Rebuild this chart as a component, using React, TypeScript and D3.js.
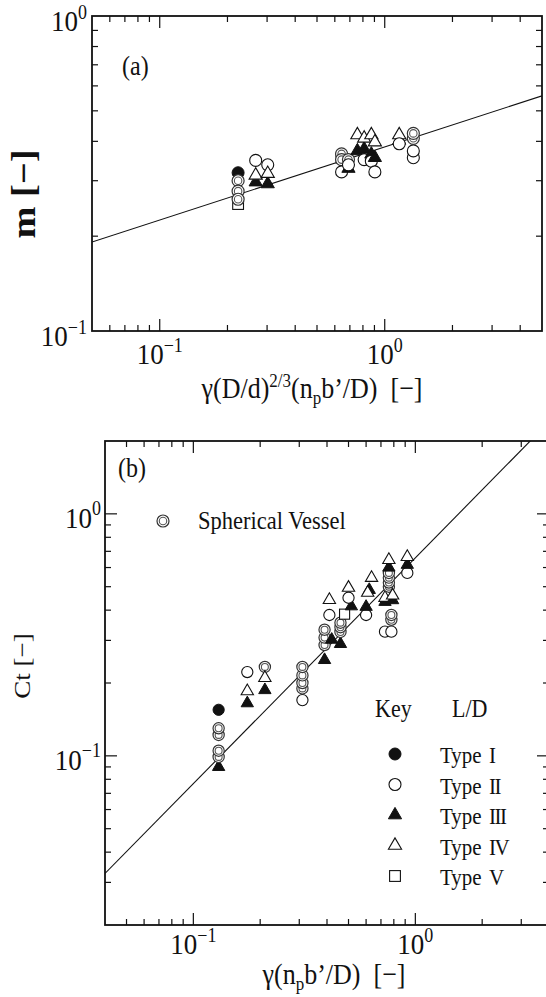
import React from "react";
import * as d3 from "d3";

const FONT = "'Liberation Serif','Times New Roman',Times,serif";
const SY = 1.13;
const INK = "#111";
const NB = "\u00a0";
const MINUS = "\u2212";

// ---------- Panel (a): m vs γ(D/d)^{2/3}(n_p b'/D) ----------
const aX = [0.223, 0.223, 0.223, 0.223, 0.223, 0.267, 0.267, 0.267, 0.302, 0.302, 0.302,
  0.643, 0.643, 0.643, 0.643, 0.69, 0.69, 0.69, 0.756, 0.756, 0.81, 0.81, 0.81,
  0.872, 0.872, 0.872, 0.904, 0.904, 0.904, 1.16, 1.16, 1.16, 1.34, 1.34, 1.34, 1.34];
const aY = [0.253, 0.318, 0.300, 0.278, 0.262, 0.348, 0.297, 0.312, 0.337, 0.293, 0.316,
  0.355, 0.365, 0.350, 0.320, 0.328, 0.350, 0.337, 0.373, 0.419, 0.378, 0.409, 0.350,
  0.364, 0.419, 0.346, 0.355, 0.398, 0.320, 0.403, 0.419, 0.393, 0.355, 0.373, 0.409, 0.424];
const aT = ["V", "I", "S", "S", "S", "II", "III", "IV", "II", "III", "IV",
  "V", "S", "S", "II", "III", "S", "II", "III", "IV", "III", "IV", "II",
  "III", "IV", "II", "III", "IV", "II", "III", "IV", "II", "II", "II", "S", "S"];
const fitA = { a: 0.384, b: 0.232 };

// ---------- Panel (b): Ct vs γ(n_p b'/D) ----------
const bX = [0.13, 0.13, 0.13, 0.13, 0.13, 0.13, 0.175, 0.175, 0.175, 0.21, 0.21, 0.21,
  0.31, 0.31, 0.31, 0.31, 0.31, 0.39, 0.39, 0.39, 0.39, 0.41, 0.41, 0.42,
  0.46, 0.46, 0.46, 0.46, 0.48, 0.515, 0.50, 0.50, 0.60, 0.60, 0.62, 0.61, 0.635,
  0.73, 0.73, 0.73, 0.76, 0.76, 0.76, 0.76, 0.76, 0.76, 0.78, 0.78, 0.78, 0.79, 0.79,
  0.92, 0.92, 0.92];
const bY = [0.155, 0.090, 0.099, 0.105, 0.122, 0.130, 0.222, 0.165, 0.185, 0.233, 0.187, 0.210,
  0.170, 0.190, 0.200, 0.215, 0.233, 0.249, 0.287, 0.308, 0.332, 0.382, 0.441, 0.302,
  0.290, 0.325, 0.340, 0.355, 0.385, 0.415, 0.450, 0.495, 0.382, 0.413, 0.485, 0.472, 0.544,
  0.326, 0.433, 0.450, 0.500, 0.520, 0.545, 0.570, 0.600, 0.645, 0.326, 0.365, 0.382, 0.440, 0.460,
  0.570, 0.616, 0.664];
const bT = ["I", "III", "S", "S", "S", "S", "II", "III", "IV", "S", "III", "IV",
  "II", "S", "S", "S", "S", "III", "S", "S", "S", "II", "IV", "III",
  "III", "S", "S", "S", "V", "III", "II", "IV", "II", "III", "III", "IV", "IV",
  "II", "III", "IV", "S", "S", "S", "S", "III", "IV", "II", "S", "S", "III", "IV",
  "II", "III", "IV"];
const fitB = { a: 0.658, b: 0.933 };

const legendTypes = ["I", "II", "III", "IV", "V"];
const legendNumerals = ["I", "II", "III", "IV", "V"];

function Marker({ type, cx, cy, r }: { type: string; cx: number; cy: number; r: number }) {
  if (type === "I") return <circle cx={cx} cy={cy} r={r} fill={INK} stroke={INK} strokeWidth={1} />;
  if (type === "II") return <circle cx={cx} cy={cy} r={r} fill="#fff" stroke={INK} strokeWidth={1.1} />;
  if (type === "S")
    return (
      <g>
        <circle cx={cx} cy={cy} r={r} fill="#fff" stroke="#333" strokeWidth={1.2} />
        <circle cx={cx} cy={cy} r={r * 0.62} fill="none" stroke="#555" strokeWidth={1.1} />
      </g>
    );
  if (type === "V")
    return <rect x={cx - r * 0.9} y={cy - r * 0.9} width={r * 1.8} height={r * 1.8} fill="#fff" stroke={INK} strokeWidth={1.1} />;
  const s = r * 2.2;
  const pts = `${cx},${cy - s * 0.577} ${cx - s / 2},${cy + s * 0.289} ${cx + s / 2},${cy + s * 0.289}`;
  if (type === "III") return <polygon points={pts} fill={INK} stroke={INK} strokeWidth={1} />;
  return <polygon points={pts} fill="#fff" stroke={INK} strokeWidth={1.1} />;
}

function isMajor(t: number) {
  const l = Math.log10(t);
  return Math.abs(l - Math.round(l)) < 1e-9;
}

function Frame({ x, y, major, minor, id }: any) {
  const [x0, x1] = x.range();
  const [y0, y1] = y.range();
  const [dx0, dx1] = x.domain();
  const [dy0, dy1] = y.domain();
  const xt = x.ticks().filter((t: number) => t > dx0 * 1.0001 && t < dx1 * 0.9999);
  const yt = y.ticks().filter((t: number) => t > dy0 * 1.0001 && t < dy1 * 0.9999);
  const els: any[] = [];
  xt.forEach((t: number, i: number) => {
    const L = isMajor(t) ? major : minor;
    els.push(<line key={`xb${id}${i}`} x1={x(t)} x2={x(t)} y1={y0} y2={y0 - L} />);
    els.push(<line key={`xt${id}${i}`} x1={x(t)} x2={x(t)} y1={y1} y2={y1 + L} />);
  });
  yt.forEach((t: number, i: number) => {
    const L = isMajor(t) ? major : minor;
    els.push(<line key={`yl${id}${i}`} x1={x0} x2={x0 + L} y1={y(t)} y2={y(t)} />);
    els.push(<line key={`yr${id}${i}`} x1={x1} x2={x1 - L} y1={y(t)} y2={y(t)} />);
  });
  return (
    <g stroke={INK} strokeWidth={1.2} fill="none">
      <rect x={x0} y={y1} width={x1 - x0} height={y0 - y1} strokeWidth={1.8} />
      {els}
    </g>
  );
}

function expStr(t: number) {
  const e = Math.round(Math.log10(t));
  return e < 0 ? `${MINUS}${-e}` : `${e}`;
}

function Pow({ x, y, t, anchor }: any) {
  return (
    <g transform={`translate(${x},${y}) scale(1,${SY})`}>
      <text textAnchor={anchor} fontSize={27} fontFamily={FONT} fill={INK}>
        <tspan>10</tspan>
        <tspan dy={-11} fontSize={18}>{expStr(t)}</tspan>
      </text>
    </g>
  );
}

function Txt({ x, y, size, children, anchor = "start", weight = "normal" }: any) {
  return (
    <g transform={`translate(${x},${y}) scale(1,${SY})`}>
      <text textAnchor={anchor} fontSize={size} fontFamily={FONT} fontWeight={weight} fill={INK}>
        {children}
      </text>
    </g>
  );
}

export default function App() {
  const xA = d3.scaleLog().domain([0.05, 5]).range([92, 542]);
  const yA = d3.scaleLog().domain([0.1, 1]).range([331, 16]);
  const xB = d3.scaleLog().domain([0.04, 4]).range([105, 549]);
  const yB = d3.scaleLog().domain([0.02, 2]).range([925, 441]);

  const lineA = d3.line<number>().x((v) => xA(v)).y((v) => yA(fitA.a * Math.pow(v, fitA.b)));
  const lineB = d3.line<number>().x((v) => xB(v)).y((v) => yB(fitB.a * Math.pow(v, fitB.b)));

  const majA = xA.ticks().filter(isMajor);
  const majAy = yA.ticks().filter(isMajor);
  const majB = xB.ticks().filter(isMajor);
  const majBy = yB.ticks().filter(isMajor);

  return (
    <svg width={546} height={997} style={{ position: "absolute", left: 0, top: 0, background: "#fff" }}>
      <defs>
        <clipPath id="clipA"><rect x={92} y={16} width={450} height={315} /></clipPath>
        <clipPath id="clipB"><rect x={105} y={441} width={444} height={484} /></clipPath>
      </defs>

      {/* ---------- Panel (a) ---------- */}
      <path d={lineA(xA.domain()) || ""} clipPath="url(#clipA)" fill="none" stroke={INK} strokeWidth={1.1} />
      {aX.map((v, i) => (
        <Marker key={`a${i}`} type={aT[i]} cx={xA(v)} cy={yA(aY[i])} r={6} />
      ))}
      <Frame x={xA} y={yA} major={12} minor={6} id="a" />
      {majAy.map((t, i) => <Pow key={`pay${i}`} x={87} y={yA(t) + 15} t={t} anchor="end" />)}
      {majA.map((t, i) => <Pow key={`pax${i}`} x={xA(t)} y={364} t={t} anchor="middle" />)}
      <Txt x={122} y={75} size={24}>(a)</Txt>
      <Txt x={312} y={398} size={26} anchor="middle">
        <tspan>γ(D/d)</tspan>
        <tspan dy={-10} fontSize={17}>2/3</tspan>
        <tspan dy={10}>(n</tspan>
        <tspan dy={5} fontSize={17}>p</tspan>
        <tspan dy={-5}>{`b’/D)${NB}${NB}[${MINUS}]`}</tspan>
      </Txt>
      <g transform={`translate(23,194) rotate(-90) scale(${SY},1)`}>
        <text textAnchor="middle" dy="0.35em" fontSize={34} fontWeight="bold" fontFamily={FONT} fill={INK}>
          {`m${NB}[${MINUS}]`}
        </text>
      </g>

      {/* ---------- Panel (b) ---------- */}
      <path d={lineB(xB.domain()) || ""} clipPath="url(#clipB)" fill="none" stroke={INK} strokeWidth={1.1} />
      {bX.map((v, i) => (
        <Marker key={`b${i}`} type={bT[i]} cx={xB(v)} cy={yB(bY[i])} r={5.6} />
      ))}
      <Frame x={xB} y={yB} major={12} minor={6} id="b" />
      {majBy.map((t, i) => <Pow key={`pby${i}`} x={101} y={yB(t) + 14} t={t} anchor="end" />)}
      {majB.map((t, i) => <Pow key={`pbx${i}`} x={xB(t)} y={954} t={t} anchor="middle" />)}
      <Txt x={118} y={477} size={24}>(b)</Txt>
      <Txt x={334} y={984} size={26} anchor="middle">
        <tspan>γ(n</tspan>
        <tspan dy={5} fontSize={17}>p</tspan>
        <tspan dy={-5}>{`b’/D)${NB}${NB}[${MINUS}]`}</tspan>
      </Txt>
      <g transform={`translate(22,666) rotate(-90) scale(${SY},1)`}>
        <text textAnchor="middle" dy="0.35em" fontSize={24} fontFamily={FONT} fill={INK}>
          {`Ct${NB}[${MINUS}]`}
        </text>
      </g>

      {/* Spherical vessel note */}
      <Marker type="S" cx={163} cy={521} r={6} />
      <Txt x={198} y={529} size={22.5}>Spherical Vessel</Txt>

      {/* Key */}
      <Txt x={375} y={717} size={22}>Key</Txt>
      <Txt x={452} y={717} size={22}>L/D</Txt>
      {legendTypes.map((t, i) => {
        const base = 763 + i * 30.5;
        return (
          <g key={`lg${i}`}>
            <Marker type={t} cx={395} cy={base - 9} r={6} />
            <Txt x={440} y={base} size={21}>Type</Txt>
            <g transform={`translate(489,${base}) scale(1,${SY})`}>
              <text fontSize={21} fontFamily={FONT} fill={INK} letterSpacing={-1.5}>{legendNumerals[i]}</text>
            </g>
          </g>
        );
      })}
    </svg>
  );
}
